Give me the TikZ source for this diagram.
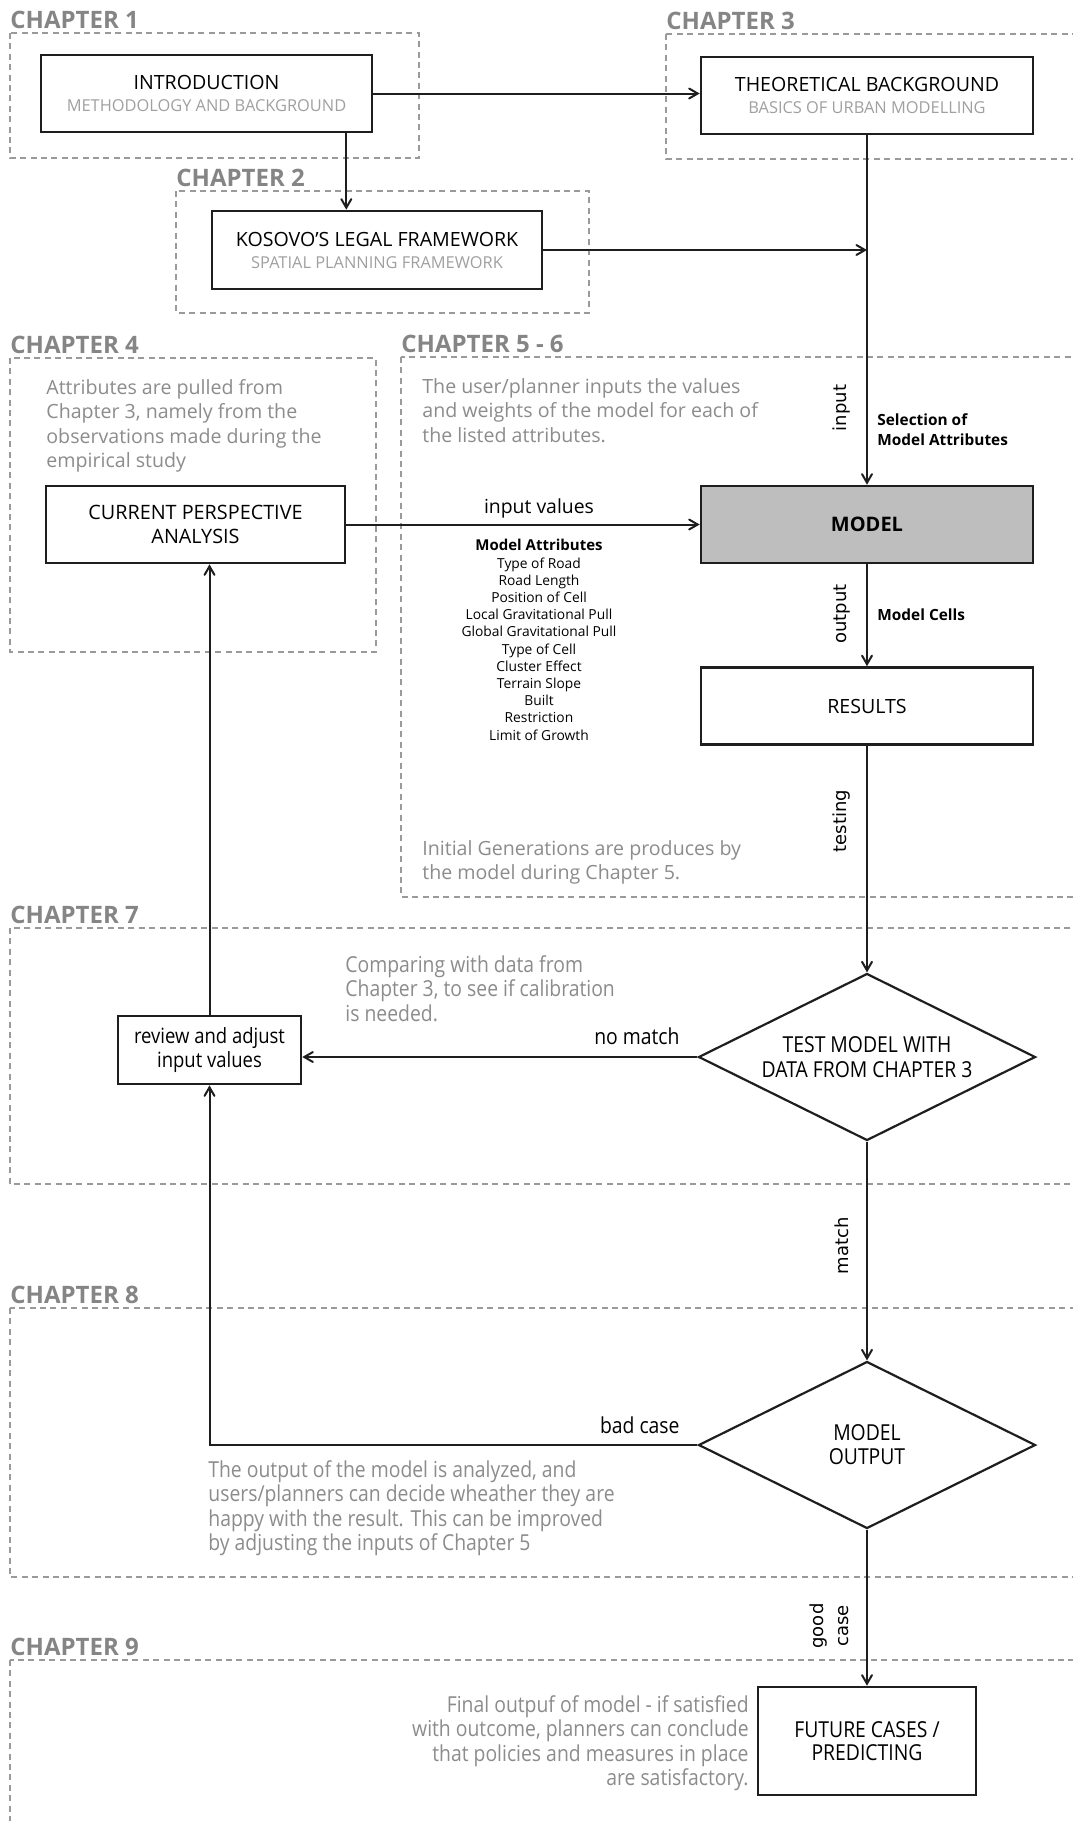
\documentclass[tikz,border=0pt]{standalone}
\usepackage{fontspec}
\setmainfont{Open Sans}
\newfontfamily\condfont[FakeStretch=0.88]{Open Sans}
\newfontfamily\tagfont{DejaVu Sans}
\usetikzlibrary{arrows,shapes.geometric}
\definecolor{chaptergray}{HTML}{858585}
\definecolor{dashgray}{HTML}{9A9A9A}
\definecolor{notegray}{HTML}{8C8C8C}
\definecolor{subgray}{HTML}{A0A0A0}
\definecolor{modelfill}{HTML}{BEBEBE}
\definecolor{ink}{HTML}{1E1E1E}
\newcommand{\subline}[1]{{\color{subgray}\fontsize{8.2}{10}\selectfont #1}}
\tikzset{
  chapbox/.style={draw=dashgray, line width=0.8pt, dash pattern=on 3pt off 2.2pt},
  chaptitle/.style={anchor=base west, inner sep=0pt, text=chaptergray, font=\bfseries\fontsize{12}{14}\selectfont},
  block/.style={draw=ink, line width=1.3pt, fill=white, align=center, inner sep=2pt, font=\fontsize{9.8}{11}\selectfont},
  decision/.style={diamond, draw=ink, line width=1.1pt, fill=white, aspect=2, inner sep=1pt, align=center,
    minimum width=168.5pt, minimum height=83.5pt, font=\condfont\fontsize{11}{12.4}\selectfont},
  note/.style={inner sep=0pt, text=notegray, align=left, font=\fontsize{9.8}{12.2}\selectfont},
  condnote/.style={inner sep=0pt, text=notegray, align=left, font=\condfont\fontsize{11}{12.2}\selectfont},
  flowtag/.style={inner sep=0pt, rotate=90, font=\tagfont\fontsize{9}{12.5}\selectfont},
  flow/.style={draw=ink, line width=1pt, ->, >=angle 60},
}

\begin{document}
\begin{tikzpicture}[x=0.5pt, y=-0.5pt]
\path[use as bounding box, fill=white] (0,0) rectangle (1072,1821);

% chapter frames
\foreach \id/\name/\xa/\ya/\xb/\yb in {1/1/10/33/419/158, 2/2/176/191/589/313, 3/3/666/34/1085/159,
    4/4/10/358/376/652, 56/5 - 6/401/357/1085/897, 7/7/10/928/1085/1184,
    8/8/10/1308/1085/1577, 9/9/10/1660/1085/1840} {
  \draw[chapbox] (\xa,\ya) rectangle (\xb,\yb);
  \node[chaptitle] (chap\id) at (\xa,\ya-5) {CHAPTER \name};
}

% boxes
\node[block, minimum width=165.5pt, minimum height=38.5pt] (intro) at (206.5,93.5) {INTRODUCTION\\\subline{METHODOLOGY AND BACKGROUND}};
\node[block, minimum width=165pt, minimum height=39pt] (kosovo) at (377,250) {KOSOVO'S LEGAL FRAMEWORK\\\subline{SPATIAL PLANNING FRAMEWORK}};
\node[block, minimum width=166pt, minimum height=38.5pt] (theo) at (867,95.5) {THEORETICAL BACKGROUND\\\subline{BASICS OF URBAN MODELLING}};
\node[block, minimum width=149.5pt, minimum height=38.5pt, font=\fontsize{9.9}{12}\selectfont] (cpa) at (195.5,524.5) {CURRENT PERSPECTIVE\\ANALYSIS};
\node[block, fill=modelfill, minimum width=166pt, minimum height=38.5pt, font=\bfseries\fontsize{10}{12}\selectfont] (model) at (867,524.5) {MODEL};
\node[block, minimum width=166pt, minimum height=38.5pt] (results) at (867,706) {RESULTS};
\node[decision] (test) at (867,1057) {TEST MODEL WITH\\DATA FROM CHAPTER 3};
\node[block, minimum width=91.5pt, minimum height=34pt, font=\condfont\fontsize{10.5}{12}\selectfont] (review) at (209.5,1050) {review and adjust\\input values};
\node[decision, font=\condfont\fontsize{11}{12}\selectfont] (output) at (867,1445) {MODEL\\OUTPUT};
\node[block, minimum width=109pt, minimum height=54pt, font=\condfont\fontsize{11}{11.5}\selectfont] (future) at (867,1741) {FUTURE CASES /\\PREDICTING};

% notes
\node[note, anchor=north west] (notefour) at (46,379) {Attributes are pulled from\\Chapter 3, namely from the\\observations made during the\\empirical study};
\node[note, anchor=north west] (notefive) at (422,378) {The user/planner inputs the values\\and weights of the model for each of\\the listed attributes.};
\node[note, anchor=north west] (notegen) at (422,840) {Initial Generations are produces by\\the model during Chapter 5.};
\node[condnote, anchor=north west] (notecomp) at (345,955) {Comparing with data from\\Chapter 3, to see if calibration\\is needed.};
\node[condnote, anchor=north west] (noteout) at (208,1460) {The output of the model is analyzed, and\\users/planners can decide wheather they are\\happy with the result. This can be improved\\by adjusting the inputs of Chapter 5};
\node[condnote, anchor=north east, align=right] (notefinal) at (749,1695) {Final outpuf of model - if satisfied\\with outcome, planners can conclude\\that policies and measures in place\\are satisfactory.};

% labels
\node[anchor=base, inner sep=0pt, font=\fontsize{9.7}{11}\selectfont] (invalues) at (539,513) {input values};
\node[anchor=north, inner sep=0pt, align=center, font=\fontsize{6.9}{8.6}\selectfont] (attrlist) at (539,539)
  {{\bfseries\fontsize{7.5}{9}\selectfont Model Attributes}\\Type of Road\\Road Length\\Position of Cell\\Local Gravitational Pull\\Global Gravitational Pull\\Type of Cell\\Cluster Effect\\Terrain Slope\\Built\\Restriction\\Limit of Growth};
\node[anchor=north west, inner sep=0pt, align=left, font=\bfseries\fontsize{7.7}{10}\selectfont] (selattr) at (877,413) {Selection of\\Model Attributes};
\node[anchor=base west, inner sep=0pt, font=\bfseries\fontsize{7.7}{10}\selectfont] (cells) at (877,620) {Model Cells};
\node[anchor=base east, inner sep=0pt, font=\condfont\fontsize{11}{12}\selectfont] (nomatch) at (680,1044) {no match};
\node[anchor=base east, inner sep=0pt, font=\condfont\fontsize{11}{12}\selectfont] (badcase) at (680,1433) {bad case};
\node[flowtag] (taginput) at (842,408) {input};
\node[flowtag] (tagoutput) at (842,614) {output};
\node[flowtag] (tagtesting) at (842,821) {testing};
\node[flowtag] (tagmatch) at (842,1246) {match};
\node[flowtag, align=center] (taggood) at (829,1626) {good\\case};

% connectors
\coordinate (introdown) at ([xshift=-13.5pt]intro.south east);
\draw[flow] (introdown) -- (introdown |- kosovo.north);
\draw[flow] (intro.east) -- (intro.east -| theo.west);
\draw[flow] (kosovo.east) -- (kosovo.east -| theo.south);
\draw[flow] (theo) -- (model);
\draw[flow] (cpa) -- (model);
\draw[flow] (model) -- (results);
\draw[flow] (results) -- (test);
\draw[flow] (test) -- (test.west -| review.east);
\draw[flow] (test) -- (output);
\draw[flow] (output.west) -| (review.south);
\draw[flow] (review.north) -- (review.north |- cpa.south);
\draw[flow] (output) -- (future);
\end{tikzpicture}
\end{document}
